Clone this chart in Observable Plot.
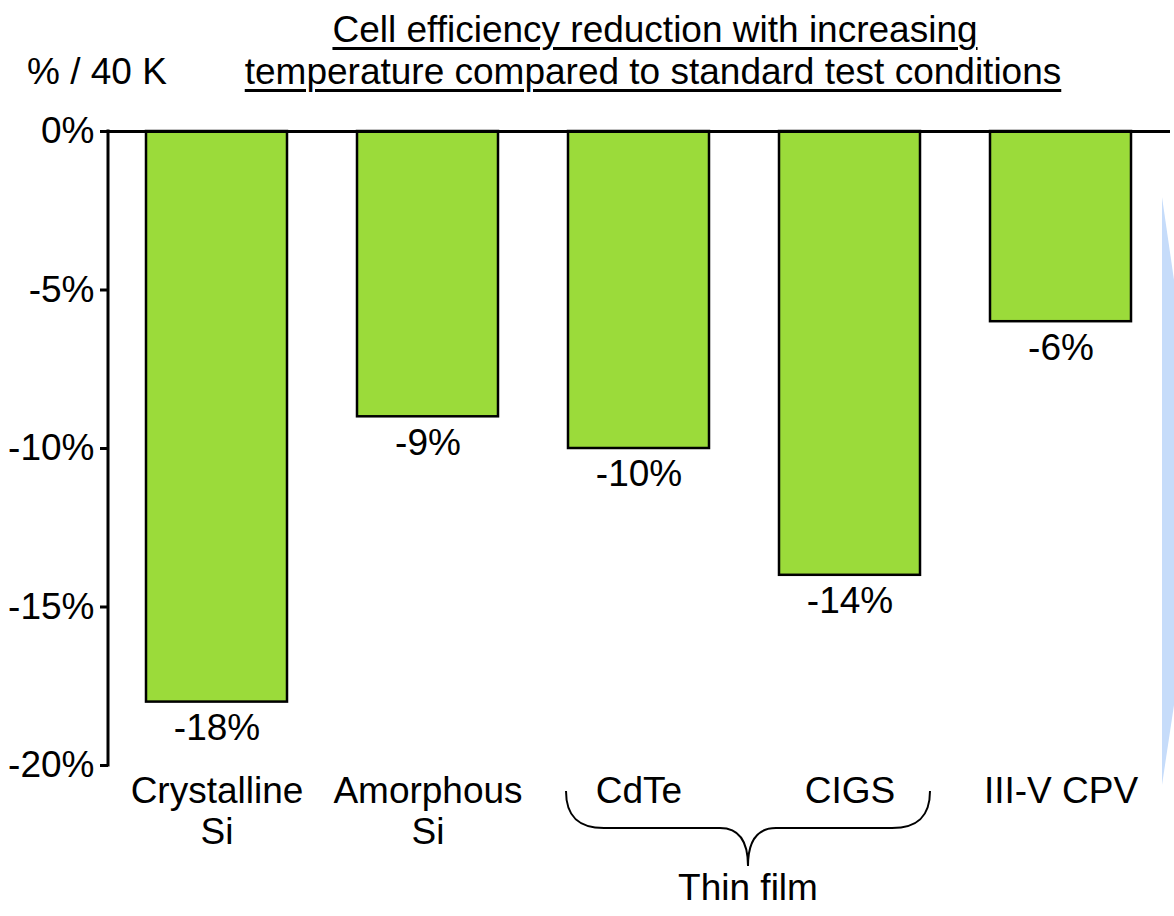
<!DOCTYPE html>
<html><head><meta charset="utf-8">
<script src="https://cdn.jsdelivr.net/npm/d3@7"></script>
<script src="https://cdn.jsdelivr.net/npm/@observablehq/plot@0.6"></script>
<style>
body{margin:0;background:#fff;font-family:"Liberation Sans",Arial,sans-serif;}
#wrap{position:relative;width:1174px;height:916px;overflow:hidden;}
#chart{position:absolute;left:0;top:0;}
.t{position:absolute;white-space:nowrap;font-size:37px;line-height:42px;color:#000;text-decoration:underline;text-decoration-thickness:2.5px;text-underline-offset:5px;transform:translateX(-50%);}
#unit{position:absolute;left:27px;top:51px;font-size:37px;line-height:42px;white-space:nowrap;}
</style></head><body>
<div id="wrap">
<div id="chart"></div>
<div class="t" style="left:655px;top:9px;">Cell efficiency reduction with increasing</div>
<div class="t" style="left:653px;top:51px;">temperature compared to standard test conditions</div>
<div id="unit">% / 40 K</div>
</div>
<script>
const names = ["Crystalline Si", "Amorphous Si", "CdTe", "CIGS", "III-V CPV"];
const labels = ["Crystalline\nSi", "Amorphous\nSi", "CdTe", "CIGS", "III-V CPV"];
const values = [-18, -9, -10, -14, -6];
const yTicks = [0, -5, -10, -15, -20];
const groupLabel = "Thin film";
const groupMembers = ["CdTe", "CIGS"];

const data = names.map((n, i) => ({name: n, label: labels[i], value: values[i]}));
const FONT = "Liberation Sans, Arial, sans-serif";

function decor(index, scales, values, dims) {
  const ns = "http://www.w3.org/2000/svg";
  const sx = scales.x, sy = scales.y;
  const bw = typeof sx.bandwidth === "function" ? sx.bandwidth() : sx.bandwidth;
  const g = document.createElementNS(ns, "g");
  // left axis line
  const ax = document.createElementNS(ns, "line");
  ax.setAttribute("x1", dims.marginLeft); ax.setAttribute("x2", dims.marginLeft);
  ax.setAttribute("y1", sy(0) - 1.5); ax.setAttribute("y2", sy(-20) + 1.5);
  ax.setAttribute("stroke", "#000"); ax.setAttribute("stroke-width", 3);
  g.appendChild(ax);
  // brace under thin film group
  const left = sx(groupMembers[0]) - 2;
  const right = sx(groupMembers[groupMembers.length - 1]) + bw + 10;
  const c = (left + right) / 2;
  const top = dims.height - dims.marginBottom + 26;
  const mid = top + 37;
  const tip = top + 75;
  const p = document.createElementNS(ns, "path");
  p.setAttribute("d",
    `M${left},${top} C${left},${mid - 12} ${left + 12},${mid} ${left + 38},${mid}` +
    ` L${c - 28},${mid} C${c - 8},${mid} ${c},${mid + 14} ${c},${tip}` +
    ` C${c},${mid + 14} ${c + 8},${mid} ${c + 28},${mid}` +
    ` L${right - 38},${mid} C${right - 12},${mid} ${right},${mid - 12} ${right},${top}`);
  p.setAttribute("fill", "none"); p.setAttribute("stroke", "#000"); p.setAttribute("stroke-width", 2);
  g.appendChild(p);
  const t = document.createElementNS(ns, "text");
  t.setAttribute("x", c); t.setAttribute("y", tip + 34);
  t.setAttribute("text-anchor", "middle");
  t.setAttribute("font-size", 37);
  t.setAttribute("font-family", FONT);
  t.setAttribute("fill", "#000");
  t.textContent = groupLabel;
  g.appendChild(t);
  // light blue decoration at right edge
  const W = dims.width;
  const poly = document.createElementNS(ns, "polygon");
  poly.setAttribute("points", `${W - 12},${sy(0) + 66} ${W},${sy(0) + 149} ${W},${sy(-20) - 60} ${W - 12},${sy(-20) + 20}`);
  poly.setAttribute("fill", "#c6dcfa");
  g.appendChild(poly);
  return g;
}

const chart = Plot.plot({
  width: 1174,
  height: 916,
  marginTop: 131,
  marginBottom: 151,
  marginLeft: 108,
  marginRight: 4,
  style: {fontFamily: FONT, background: "transparent", color: "#000"},
  x: {domain: names, paddingInner: 0.33, paddingOuter: 0.17, axis: null},
  y: {domain: [-20, 0], axis: null},
  marks: [
    Plot.barY(data, {x: "name", y: "value", fill: "#9bdb3a", stroke: "#000", strokeWidth: 2.5}),
    Plot.ruleY([0], {stroke: "#000", strokeWidth: 3}),
    Plot.axisY({ticks: yTicks, tickFormat: d => `${d}%`, tickSize: 8, tickPadding: 6, fontSize: 37, strokeWidth: 3, label: null}),
    Plot.text(data, {x: "name", y: "value", text: d => `${d.value}%`, dy: 26, fontSize: 37, lineAnchor: "middle"}),
    Plot.text(data, {x: "name", text: "label", frameAnchor: "bottom", lineAnchor: "top", dy: 8, fontSize: 37, lineHeight: 1.11}),
    decor
  ]
});
document.getElementById("chart").appendChild(chart);
</script>
</body></html>
